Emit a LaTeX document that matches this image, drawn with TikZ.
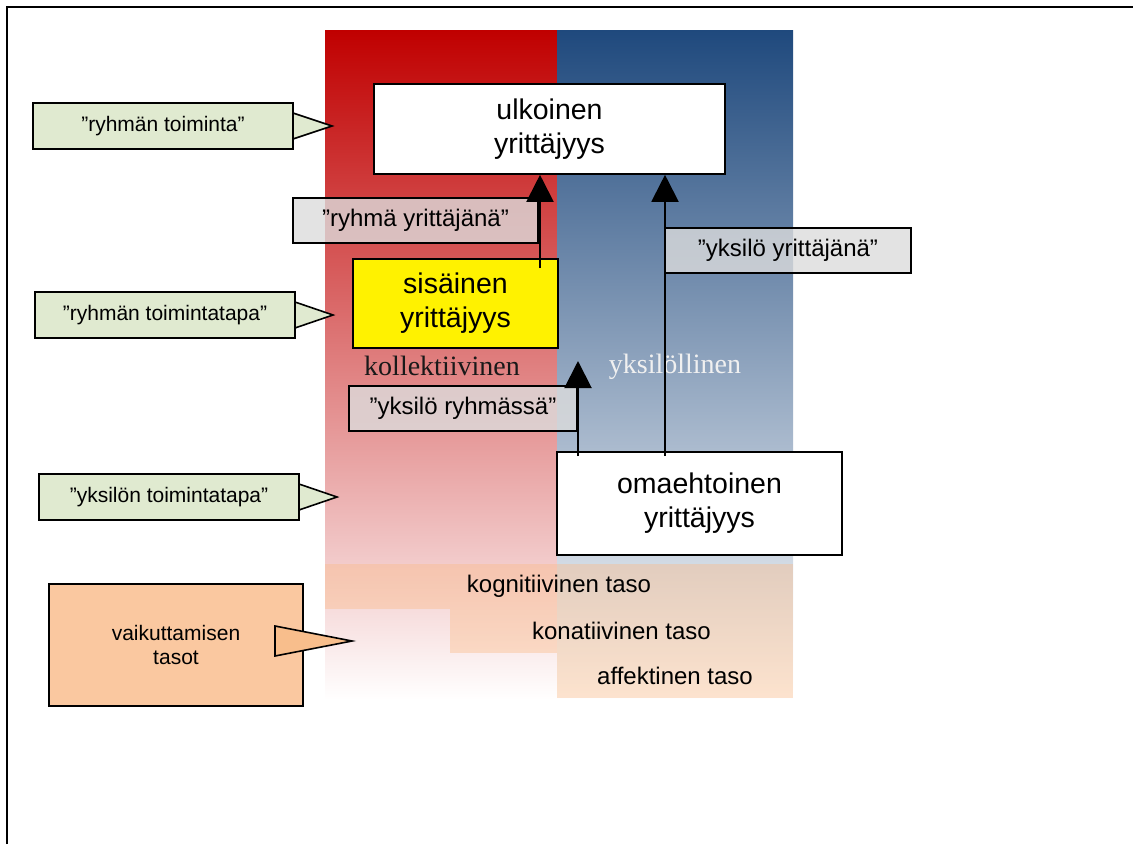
\documentclass[tikz,border=0pt]{standalone}
\usepackage{fontspec}
\setmainfont{Liberation Sans}
\newfontfamily\timesf{Liberation Serif}
\usetikzlibrary{arrows.meta,calc}
\definecolor{redtop}{RGB}{192,0,0}
\definecolor{bluetop}{RGB}{31,73,125}
\definecolor{greenfill}{RGB}{224,234,208}
\definecolor{orangefill}{RGB}{250,200,160}
\definecolor{orangetip}{RGB}{248,190,140}
\definecolor{peach}{RGB}{251,186,134}
\definecolor{labelgray}{RGB}{220,220,220}
\tikzset{
  mainbox/.style={draw=black, line width=1.6pt, fill=white, align=center, inner sep=0pt,
    font=\fontsize{28.5}{34}\selectfont},
  greenbox/.style={draw=black, line width=1.6pt, fill=greenfill, align=center, inner sep=0pt,
    minimum width=260pt, minimum height=46pt, font=\fontsize{21}{24}\selectfont},
  greentip/.style={draw=black, line width=1.6pt, fill=greenfill, line join=miter},
  graylabel/.style={draw=black, line width=1.6pt, fill=labelgray, fill opacity=0.8, text opacity=1,
    align=center, inner sep=0pt, minimum height=45pt, font=\fontsize{24}{28}\selectfont},
  levelbox/.style={fill=peach, fill opacity=0.4, text opacity=1, inner sep=0pt,
    font=\fontsize{24}{28}\selectfont},
  arr/.style={line width=2pt, -{Triangle[length=27pt,width=27pt]}},
  bigword/.style={font=\timesf\fontsize{28}{32}\selectfont, inner sep=0pt}
}
\begin{document}
\begin{tikzpicture}[x=1pt,y=-1pt]
\useasboundingbox (0,0) rectangle (1133,844);
% outer frame
\draw[line width=2pt] (7,844) -- (7,7) -- (1133,7);
% columns
\shade[top color=redtop, bottom color=white] (325,30) rectangle (557,700);
\shade[top color=bluetop, bottom color=white] (557,30) rectangle (793,700);
% levels
\node[levelbox, minimum width=468pt, minimum height=45pt] (k1) at (559,586.5) {kognitiivinen taso};
\node[levelbox, minimum width=343pt, minimum height=44pt] (k2) at (621.5,631) {konatiivinen taso};
\node[levelbox, minimum width=236pt, minimum height=45pt] (k3) at (675,675.5) {affektinen taso};
% column words
\node[bigword, text=black!90] (kol) at (442,366) {kollektiivinen};
\node[bigword, text=white!94!black] (yks) at (675,367) {yksilöllinen};
% main boxes
\node[mainbox, minimum width=351pt, minimum height=90pt] (ulk) at (549.5,129) {ulkoinen\\yrittäjyys};
\node[mainbox, fill=yellow, minimum width=205pt, minimum height=89pt] (sis) at (455.5,303.5) {sisäinen\\yrittäjyys};
\node[mainbox, minimum width=285pt, minimum height=103pt] (oma) at (699.5,503.5) {omaehtoinen\\yrittäjyys};
% green callouts
\coordinate (t1) at (332,126);
\coordinate (t2) at (333,315);
\coordinate (t3) at (337,497);
\filldraw[greentip] (293,113) -- (t1) -- (293,139) -- cycle;
\filldraw[greentip] (295,302) -- (t2) -- (295,328) -- cycle;
\filldraw[greentip] (299,484) -- (t3) -- (299,510) -- cycle;
\node[greenbox] (g1) at (163,126) {”ryhmän toiminta”};
\node[greenbox] (g2) at (165,315) {”ryhmän toimintatapa”};
\node[greenbox] (g3) at (169,497) {”yksilön toimintatapa”};
% orange callout
\node[draw=black, line width=1.6pt, fill=orangefill, align=center, inner sep=0pt,
  minimum width=254pt, minimum height=122pt, font=\fontsize{21}{24}\selectfont] (vt) at (176,645) {vaikuttamisen\\tasot};
\coordinate (t4) at (352,641);
\filldraw[draw=black, line width=1.6pt, fill=orangetip] (275,626) -- (t4) -- (275,656) -- cycle;
% gray labels
\node[graylabel, minimum width=245pt] (l1) at (415.5,220.5) {”ryhmä yrittäjänä”};
\node[graylabel, minimum width=228pt] (l2) at (463,408.5) {”yksilö ryhmässä”};
\node[graylabel, minimum width=246pt] (l3) at (788,250.5) {”yksilö yrittäjänä”};
% arrows
\coordinate (s1) at (540,268);
\coordinate (s2) at (665,456);
\coordinate (s3) at (578,456);
\coordinate (e3) at (578,361);
\draw[arr] (s1) -- (s1 |- ulk.south);
\draw[arr] (s2) -- (s2 |- ulk.south);
\draw[arr] (s3) -- (e3);
\end{tikzpicture}
\end{document}
